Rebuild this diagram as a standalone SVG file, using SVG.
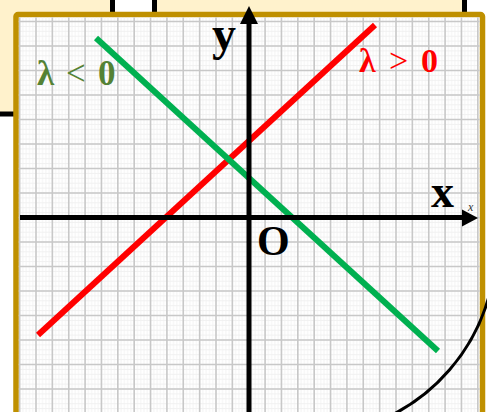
<svg xmlns="http://www.w3.org/2000/svg" width="487" height="412" viewBox="0 0 487 412">
  <style>
    .lbl { font-family: "Liberation Serif", "Times New Roman", serif; font-weight: bold; }
    .op { font-weight: normal; }
  </style>
  <defs>
    <pattern id="minor" patternUnits="userSpaceOnUse" x="34.364" y="43.55" width="3.2727" height="4.9">
      <path d="M1.636 0V4.9M0 2.45H3.2727" stroke="#efefef" stroke-width="0.8" fill="none"/>
    </pattern>
    <clipPath id="inner">
      <rect x="18.75" y="17.25" width="461" height="400"/>
    </clipPath>
  </defs>

  <g id="background">
    <rect x="0" y="0" width="487" height="412" fill="#ffffff"/>
    <rect x="-10" y="-20" width="474.5" height="134" fill="#FFF2CC" stroke="#000" stroke-width="5"/>
    <rect x="112.5" y="-20" width="42" height="60" fill="#ffffff" stroke="#000" stroke-width="5"/>
  </g>

  <g id="frame">
    <rect x="16" y="14.5" width="466.5" height="420" rx="2" fill="#ffffff" stroke="#BF9000" stroke-width="5.5"/>
  </g>

  <g id="grid" clip-path="url(#inner)">
    <rect x="18.75" y="17.25" width="461" height="400" fill="url(#minor)"/>
    <path fill="none" stroke="#c8c8c8" stroke-width="1.6" d="M19.64 17V412M36 17V412M52.36 17V412M68.73 17V412M85.09 17V412M101.45 17V412M117.82 17V412M134.18 17V412M150.55 17V412M166.91 17V412M183.27 17V412M199.64 17V412M216 17V412M232.36 17V412M248.73 17V412M265.09 17V412M281.45 17V412M297.82 17V412M314.18 17V412M330.55 17V412M346.91 17V412M363.27 17V412M379.64 17V412M396 17V412M412.36 17V412M428.73 17V412M445.09 17V412M461.45 17V412M477.82 17V412M18 21.5H480M18 46H480M18 70.5H480M18 95H480M18 119.5H480M18 144H480M18 168.5H480M18 193H480M18 217.5H480M18 242H480M18 266.5H480M18 291H480M18 315.5H480M18 340H480M18 364.5H480M18 389H480"/>
  </g>

  <g id="lines">
    <line id="line-pos" x1="38" y1="335" x2="375" y2="25" stroke="#FF0000" stroke-width="6"/>
    <line id="line-neg" x1="96" y1="38" x2="438" y2="351" stroke="#00B050" stroke-width="6"/>
  </g>

  <g id="axes">
    <line x1="20" y1="217.5" x2="464" y2="217.5" stroke="#000" stroke-width="5"/>
    <polygon points="478,218 462,209.5 462,226.5" fill="#000"/>
    <line x1="249" y1="420" x2="249" y2="22" stroke="#000" stroke-width="5"/>
    <polygon points="249,6 240,24 258,24" fill="#000"/>
  </g>

  <g id="arc">
    <path d="M489.3 295A191 191 0 0 1 381.5 420" fill="none" stroke="#000" stroke-width="3"/>
  </g>

  <g id="labels">
    <text class="lbl" x="212" y="50" font-size="48" fill="#000">y</text>
    <text class="lbl" x="431" y="207" font-size="46" fill="#000">x</text>
    <text x="468" y="211" font-size="12" font-style="italic" font-family="Liberation Serif, serif" fill="#333">x</text>
    <text class="lbl" x="257" y="255" font-size="42" fill="#000">O</text>
    <text class="lbl" y="85" font-size="35" fill="#548235"><tspan x="37">λ</tspan><tspan class="op" x="66">&lt;</tspan><tspan x="98">0</tspan></text>
    <text class="lbl" y="72" font-size="34" fill="#FF0000"><tspan x="359">λ</tspan><tspan class="op" x="389">&gt;</tspan><tspan x="421">0</tspan></text>
  </g>
</svg>
